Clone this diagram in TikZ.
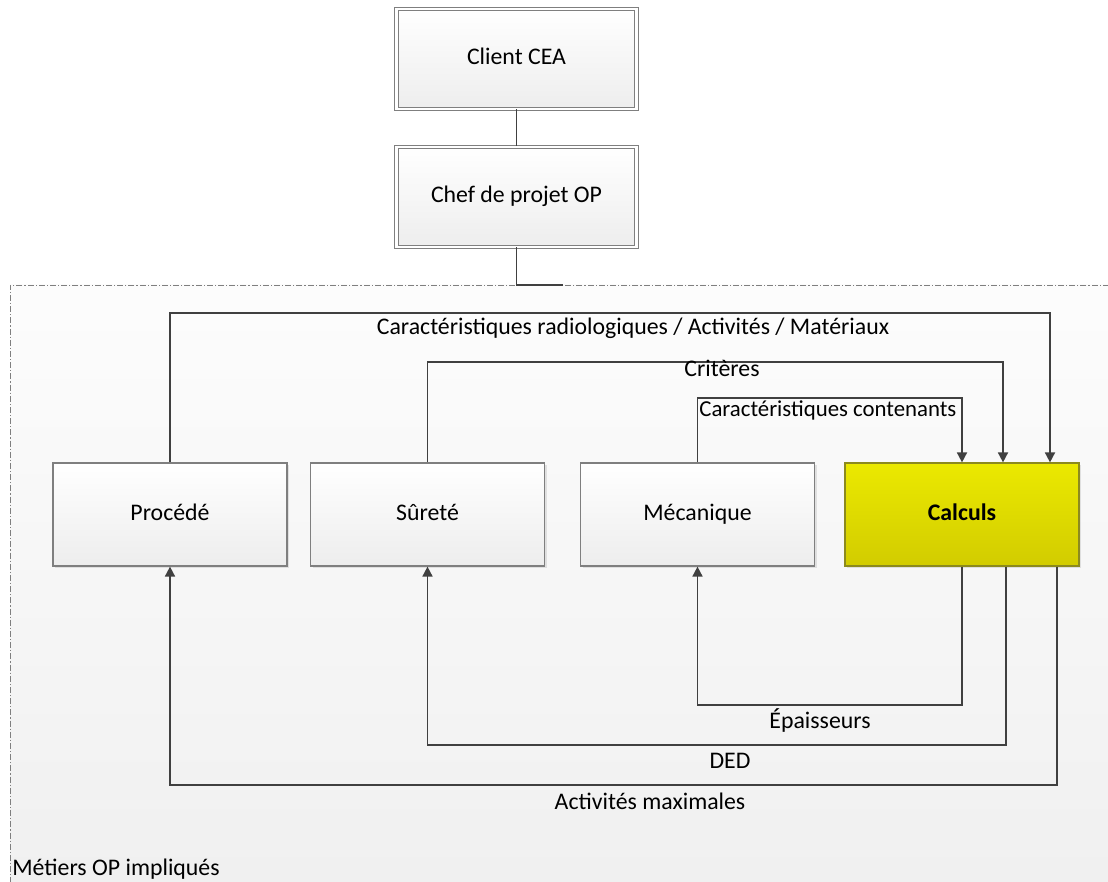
\documentclass[tikz,border=0pt]{standalone}
\usepackage{fontspec}
\setmainfont{Carlito}
\usetikzlibrary{arrows.meta,shadows}
\definecolor{ln}{HTML}{404040}
\definecolor{bx}{HTML}{7F7F7F}
\definecolor{yt}{HTML}{EBE900}
\definecolor{yb}{HTML}{D2CC00}
\definecolor{yd}{HTML}{8C8A1E}
\begin{document}
\begin{tikzpicture}[x=0.5pt,y=-0.5pt,
  font=\fontsize{11.9}{14}\selectfont,
  box/.style={draw=bx,line width=0.6pt,top color=white,bottom color=black!7,
    minimum width=117pt,minimum height=51.5pt,inner sep=0pt,
    text height=8.3pt,text depth=2.6pt,
    drop shadow={shadow xshift=1.2pt,shadow yshift=-1.2pt,opacity=0.25,fill=black!40}},
  topbox/.style={box,double=white,double distance=1.2pt,line width=0.5pt,
    minimum width=120pt,minimum height=50pt},
  calcbox/.style={box,draw=yd,top color=yt,bottom color=yb,font=\fontsize{11.9}{14}\selectfont\bfseries},
  conn/.style={draw=ln,line width=0.85pt},
  arr/.style={conn,-{Triangle[length=5pt,width=5pt]}},
  lbl/.style={inner sep=1pt}]
\useasboundingbox (0,0) rectangle (1108,882);
% container
\path[top color=white!99!black,bottom color=black!6] (10,285) rectangle (1120,895);
\draw[bx,line width=0.4pt,dash pattern=on 3pt off 1pt on 0.6pt off 1pt] (1120,285) -- (10,285) -- (10,895);
\node[anchor=south west,inner sep=1pt] (lab) at (10,882) {Métiers OP impliqués};
% top boxes
\node[topbox] (cea) at (516.5,59) {Client CEA};
\node[topbox] (chef) at (516.5,197) {Chef de projet OP};
\coordinate (j) at (563,285);
\draw[conn] (cea) -- (chef);
\draw[conn] (chef.south) |- (j);
% main boxes
\node[box] (proc) at (170,514.5) {Procédé};
\node[box] (sur) at (427.5,514.5) {Sûreté};
\node[box] (meca) at (697.5,514.5) {Mécanique};
\node[calcbox] (calc) at (962,514.5) {Calculs};
% top connectors
\coordinate (a1) at (1050,313);
\coordinate (a2) at (1003,362);
\coordinate (a3) at (962,398);
\draw[arr] (proc.north) |- (a1) -- (a1 |- calc.north);
\draw[arr] (sur.north) |- (a2) -- (a2 |- calc.north);
\draw[arr] (meca.north) |- (a3) -- (calc.north);
\node[lbl] (l1) at (633,328) {Caractéristiques radiologiques / Activités / Matériaux};
\node[lbl] (l2) at (722,368) {Critères};
\node[lbl,anchor=west,font=\fontsize{11.4}{14}\selectfont] (l3) at (697,410) {Caractéristiques contenants};
% bottom connectors
\coordinate (b1) at (962,705);
\coordinate (b2) at (1006,745);
\coordinate (b3) at (1057,785);
\draw[arr] (calc.south) |- (meca.south |- b1) -- (meca.south);
\draw[arr] (b2 |- calc.south) -- (b2) -| (sur.south);
\draw[arr] (b3 |- calc.south) -- (b3) -| (proc.south);
\node[lbl] (l4) at (820,720) {Épaisseurs};
\node[lbl] (l5) at (730,761) {DED};
\node[lbl] (l6) at (650,801) {Activités maximales};
\end{tikzpicture}
\end{document}
